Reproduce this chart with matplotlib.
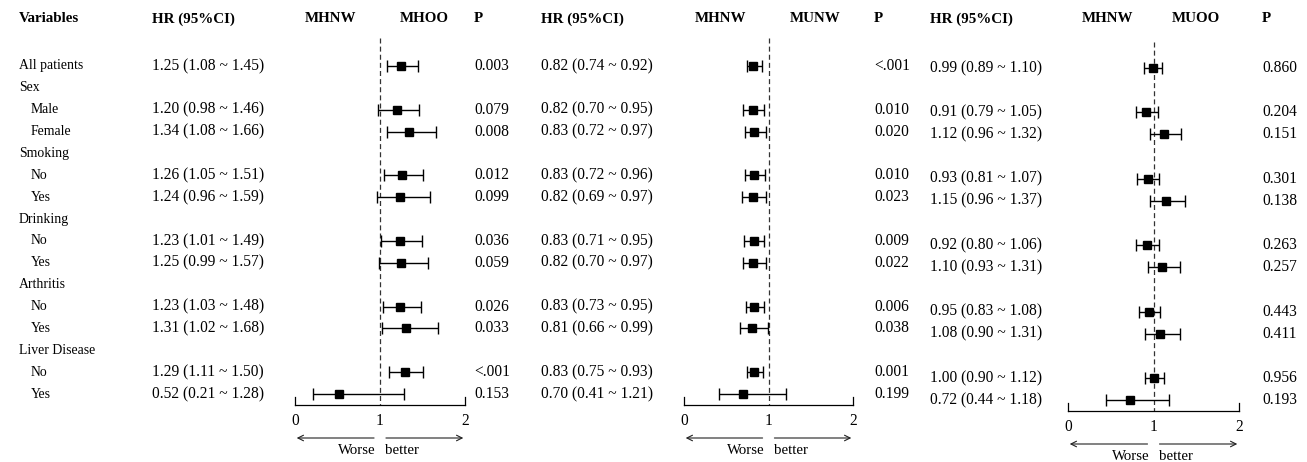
import matplotlib
matplotlib.use("Agg")
import matplotlib.pyplot as plt

# ---------------- data ----------------
labels = ["All patients", "Sex", "Male", "Female", "Smoking", "No", "Yes",
          "Drinking", "No", "Yes", "Arthritis", "No", "Yes",
          "Liver Disease", "No", "Yes"]
is_group = [False, True, False, False, True, False, False, True, False, False,
            True, False, False, True, False, False]
indent = [False, False, True, True, False, True, True, False, True, True,
          False, True, True, False, True, True]

# estimates (rows with data only: All, Male, Female, SmkNo, SmkYes, DrkNo, DrkYes, ArtNo, ArtYes, LivNo, LivYes)
hr1 = [1.25, 1.20, 1.34, 1.26, 1.24, 1.23, 1.25, 1.23, 1.31, 1.29, 0.52]
lo1 = [1.08, 0.98, 1.08, 1.05, 0.96, 1.01, 0.99, 1.03, 1.02, 1.11, 0.21]
hi1 = [1.45, 1.46, 1.66, 1.51, 1.59, 1.49, 1.57, 1.48, 1.68, 1.50, 1.28]
p1 = ["0.003", "0.079", "0.008", "0.012", "0.099", "0.036", "0.059", "0.026", "0.033", "<.001", "0.153"]

hr2 = [0.82, 0.82, 0.83, 0.83, 0.82, 0.83, 0.82, 0.83, 0.81, 0.83, 0.70]
lo2 = [0.74, 0.70, 0.72, 0.72, 0.69, 0.71, 0.70, 0.73, 0.66, 0.75, 0.41]
hi2 = [0.92, 0.95, 0.97, 0.96, 0.97, 0.95, 0.97, 0.95, 0.99, 0.93, 1.21]
p2 = ["<.001", "0.010", "0.020", "0.010", "0.023", "0.009", "0.022", "0.006", "0.038", "0.001", "0.199"]

hr3 = [0.99, 0.91, 1.12, 0.93, 1.15, 0.92, 1.10, 0.95, 1.08, 1.00, 0.72]
lo3 = [0.89, 0.79, 0.96, 0.81, 0.96, 0.80, 0.93, 0.83, 0.90, 0.90, 0.44]
hi3 = [1.10, 1.05, 1.32, 1.07, 1.37, 1.06, 1.31, 1.08, 1.31, 1.12, 1.18]
p3 = ["0.860", "0.204", "0.151", "0.301", "0.138", "0.263", "0.257", "0.443", "0.411", "0.956", "0.193"]

groups = ["MHOO", "MUNW", "MUOO"]
ref_name = "MHNW"
xticks = [0, 1, 2]

# ---------------- layout ----------------
W, H = 1307, 462
fig = plt.figure(figsize=(W / 100, H / 100), dpi=100)
fig.patch.set_facecolor("white")
plt.rcParams["font.family"] = ["Liberation Serif", "DejaVu Serif"]

ax = fig.add_axes([0, 0, 1, 1])
ax.set_xlim(0, W)
ax.set_ylim(H, 0)
ax.axis("off")

row_y = [66 + i * 21.87 for i in range(len(labels))]
data_rows = [i for i, g in enumerate(is_group) if not g]

FS = 11.2
FS_LAB = 9.9
FS_HEAD = 10.8

# left labels
for i, lab in enumerate(labels):
    ax.text(31 if indent[i] else 19, row_y[i], lab, fontsize=FS_LAB,
            va="center", ha="left")

# headers
head_y = 19
headers = [(19, "Variables"), (152, "HR (95%CI)"), (305, ref_name), (400, groups[0]),
           (474, "P"), (541, "HR (95%CI)"), (695, ref_name), (790, groups[1]),
           (874, "P"), (930, "HR (95%CI)"), (1082, ref_name), (1172, groups[2]),
           (1262, "P")]
for x, t in headers:
    ax.text(x, head_y, t, fontsize=FS_HEAD, fontweight="bold", va="center", ha="left")

panels = [
    dict(hr=hr1, lo=lo1, hi=hi1, p=p1, hr_x=152, p_x=474, ax0=295, ax2=465,
         yoff=0.0, yscale=1.0, dash_top=38, base=405),
    dict(hr=hr2, lo=lo2, hi=hi2, p=p2, hr_x=541, p_x=874, ax0=684, ax2=853,
         yoff=0.0, yscale=1.0, dash_top=38, base=405),
    dict(hr=hr3, lo=lo3, hi=hi3, p=p3, hr_x=930, p_x=1262, ax0=1068, ax2=1239,
         yoff=2.0, yscale=332 / 328, dash_top=42, base=411),
]

for k, P in enumerate(panels):
    ys = [66 + P["yoff"] + (row_y[i] - 66) * P["yscale"] for i in data_rows]
    # HR text and P text
    for j, y in enumerate(ys):
        ax.text(P["hr_x"], y, f"{P['hr'][j]:.2f} ({P['lo'][j]:.2f} ~ {P['hi'][j]:.2f})",
                fontsize=FS, va="center", ha="left")
    p_ys = [row_y[i] for i in data_rows] if k < 2 else ys
    for j, y in enumerate(p_ys):
        ax.text(P["p_x"], y, P["p"][j], fontsize=FS, va="center", ha="left")

    # forest axes mapped so that 0..2 -> ax0..ax2 pixels
    fa = fig.add_axes([P["ax0"] / W, 0, (P["ax2"] - P["ax0"]) / W, 1])
    fa.set_xlim(0, 2)
    fa.set_ylim(H, 0)
    fa.axis("off")
    fa.patch.set_alpha(0)

    base = P["base"]
    # reference dashed line
    fa.plot([1, 1], [P["dash_top"], base], ls=(0, (4, 2.5)), color="#333333", lw=0.9,
            clip_on=False)
    # error bars
    fa.errorbar(P["hr"], ys,
                xerr=[[h - l for h, l in zip(P["hr"], P["lo"])],
                      [u - h for h, u in zip(P["hr"], P["hi"])]],
                fmt="s", color="black", ms=5.2, ecolor="black", elinewidth=1.0,
                capsize=4.2, capthick=1.0, clip_on=False)
    # bottom axis
    fa.plot([xticks[0], xticks[-1]], [base, base], color="black", lw=0.9, clip_on=False)
    for t in (xticks[0], xticks[-1]):
        fa.plot([t, t], [base, base - 8], color="black", lw=0.9, clip_on=False)
    for t in xticks:
        fa.text(t, base + 16, str(t), fontsize=FS, ha="center", va="center")
    # arrows
    ay = base + 33
    fa.annotate("", xy=(0.02, ay), xytext=(0.93, ay),
                arrowprops=dict(arrowstyle="->", lw=0.8, color="#222222",
                                shrinkA=0, shrinkB=0), annotation_clip=False)
    fa.annotate("", xy=(1.98, ay), xytext=(1.07, ay),
                arrowprops=dict(arrowstyle="->", lw=0.8, color="#222222",
                                shrinkA=0, shrinkB=0), annotation_clip=False)
    fa.text(0.95, base + 46, "Worse", fontsize=FS_LAB + 0.8, ha="right", va="center")
    fa.text(1.06, base + 46, "better", fontsize=FS_LAB + 0.8, ha="left", va="center")

fig.savefig("out.png", dpi=100, facecolor="white")
